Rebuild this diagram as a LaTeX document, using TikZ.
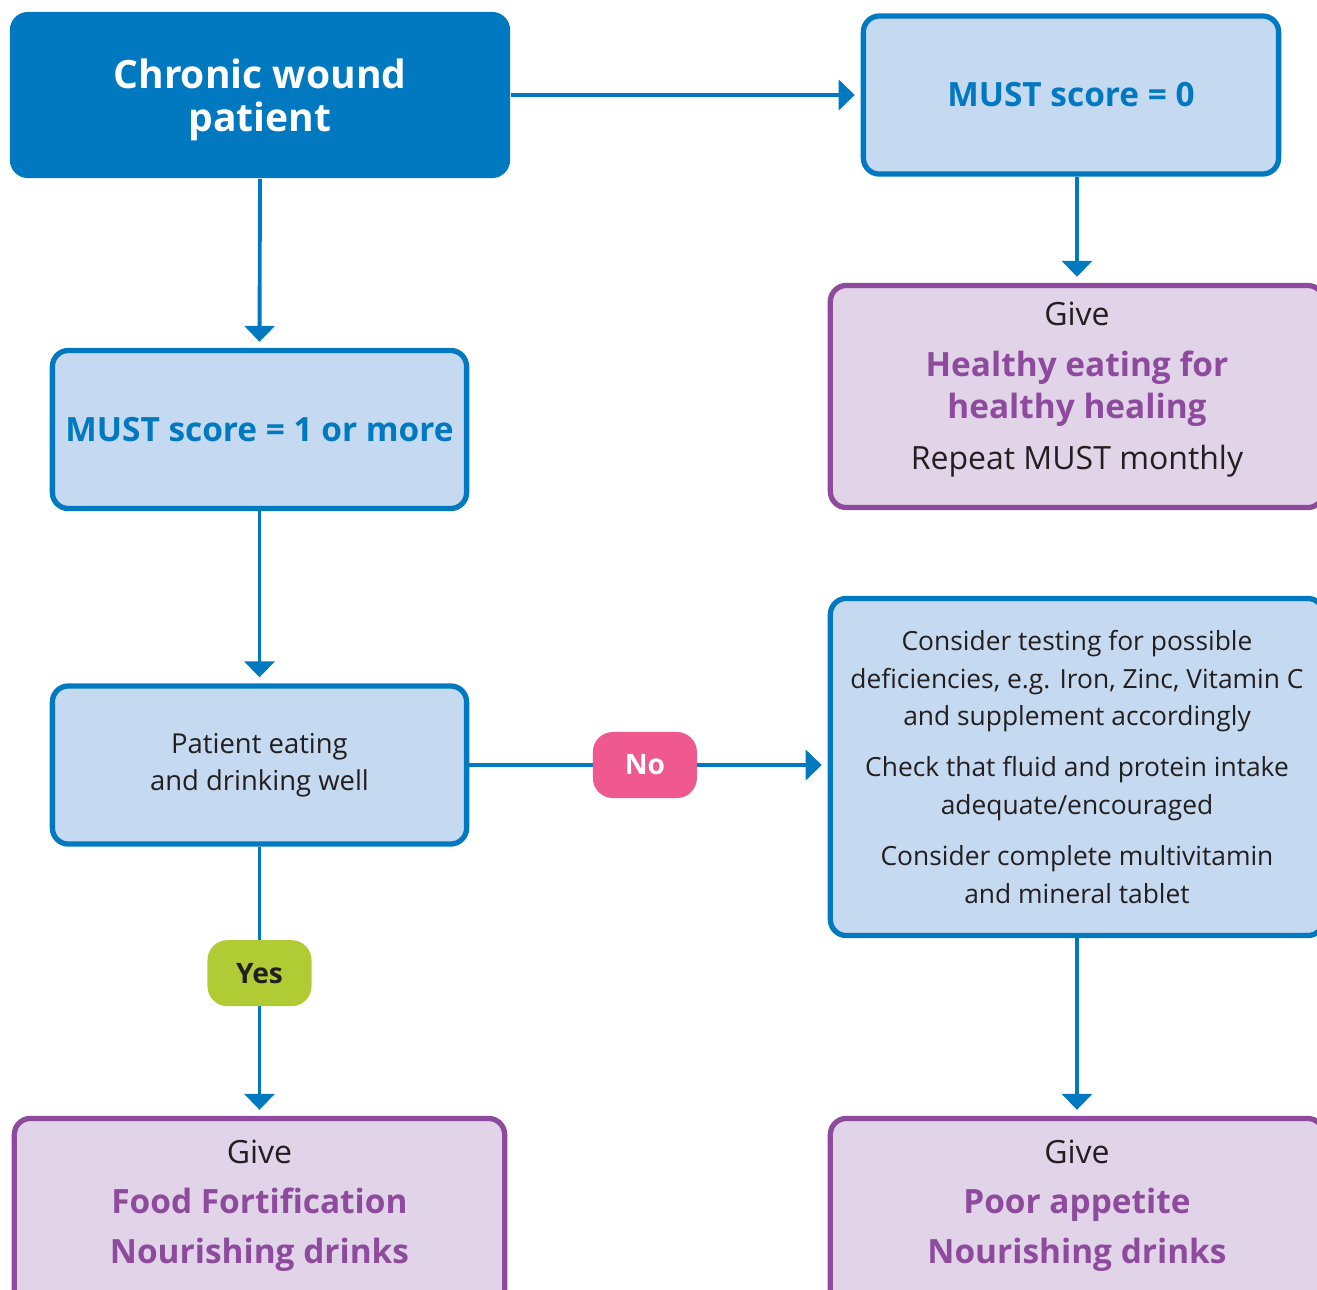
\documentclass[tikz,border=0pt]{standalone}
\usepackage{fontspec}
\setmainfont{Open Sans}
\usetikzlibrary{arrows.meta}

\definecolor{nhsblue}{HTML}{0079C1}
\definecolor{paleblue}{HTML}{C5D9F0}
\definecolor{givepurple}{HTML}{8E4B9E}
\definecolor{palepurple}{HTML}{E1D4E8}
\definecolor{nopink}{HTML}{F0598E}
\definecolor{yesgreen}{HTML}{B0CB34}
\definecolor{textgrey}{HTML}{231F20}

\newcommand{\hl}[1]{\textcolor{givepurple}{\fontsize{9.5}{11.9}\selectfont\bfseries #1}}

\tikzset{
  startbox/.style={fill=nhsblue, rounded corners=0.18cm, text=white,
    font=\bfseries\fontsize{11.1}{12.2}\selectfont, align=center},
  scorebox/.style={draw=nhsblue, line width=1.5pt, fill=paleblue,
    rounded corners=0.16cm, text=nhsblue,
    font=\bfseries\fontsize{9.5}{11}\selectfont, align=center},
  checkbox/.style={draw=nhsblue, line width=1.5pt, fill=paleblue,
    rounded corners=0.16cm, text=textgrey,
    font=\fontsize{7.5}{10.6}\selectfont, align=center},
  givebox/.style={draw=givepurple, line width=1.5pt, fill=palepurple,
    rounded corners=0.16cm, text=textgrey,
    font=\fontsize{9.1}{11.9}\selectfont, align=center},
  badge/.style={rounded corners=0.2cm, font=\bfseries\fontsize{8}{10}\selectfont,
    minimum width=1.04cm, minimum height=0.66cm},
  arr/.style={nhsblue, line width=1.1pt,
    -{Triangle[length=0.16cm,width=0.30cm]}, shorten >=0.06cm}
}

\begin{document}
\begin{tikzpicture}[x=0.01cm,y=-0.01cm]
    \clip (0,0) rectangle (1317,1290);
    % top row
    \node[startbox, text depth=0pt, minimum width=5cm, minimum height=1.66cm] (chronic) at (260,95)
      {Chronic wound\\patient};
    \node[scorebox, minimum width=4.15cm, minimum height=1.58cm] (must0) at (1071,95)
      {MUST score = 0};
    \node[givebox, text depth=6.2pt, minimum width=4.93cm, minimum height=2.22cm] (heal) at (1077,396.5)
      {Give\\[2.6pt]\hl{Healthy eating for}\\\hl{healthy healing}\\[2.6pt]Repeat MUST monthly};
    % left column
    \node[scorebox, minimum width=4.14cm, minimum height=1.58cm] (must1) at (259.5,429.5)
      {MUST score = 1 or more};
    \node[checkbox, font=\fontsize{7.8}{10.6}\selectfont, minimum width=4.14cm, minimum height=1.58cm] (eat) at (259.5,765)
      {Patient eating\\and drinking well};
    % right column
    \node[checkbox, minimum width=4.93cm, minimum height=3.37cm] (test) at (1077,767)
      {Consider testing for possible\\deficiencies, e.g. Iron, Zinc, Vitamin C\\and supplement accordingly\\[4.1pt]
       Check that fluid and protein intake\\adequate/encouraged\\[4.1pt]
       Consider complete multivitamin\\and mineral tablet};
    % bottom row
    \node[givebox, font=\fontsize{9.1}{14.2}\selectfont, text depth=6.8pt, minimum width=4.90cm, minimum height=1.9cm] (food) at (259.5,1213.5)
      {Give\\\hl{Food Fortification}\\\hl{Nourishing drinks}};
    \node[givebox, font=\fontsize{9.1}{14.2}\selectfont, text depth=6.8pt, minimum width=4.93cm, minimum height=1.9cm] (poor) at (1077,1213.5)
      {Give\\\hl{Poor appetite}\\\hl{Nourishing drinks}};
    % connectors
    \draw[arr] (chronic.east) -- (must0.west);
    \draw[arr] (chronic.south) -- (must1.north);
    \draw[arr] (must0.south -| heal.north) -- (heal.north);
    \draw[arr] (must1.south) -- (eat.north);
    \draw[arr] (eat.east) -- node[badge, fill=nopink, text=white, pos=0.49] (no) {No} (eat.east -| test.west);
    \draw[arr] (eat.south) -- node[badge, fill=yesgreen, text=textgrey, pos=0.47] (yes) {Yes} (food.north);
    \draw[arr] (test.south) -- (poor.north);
\end{tikzpicture}
\end{document}
